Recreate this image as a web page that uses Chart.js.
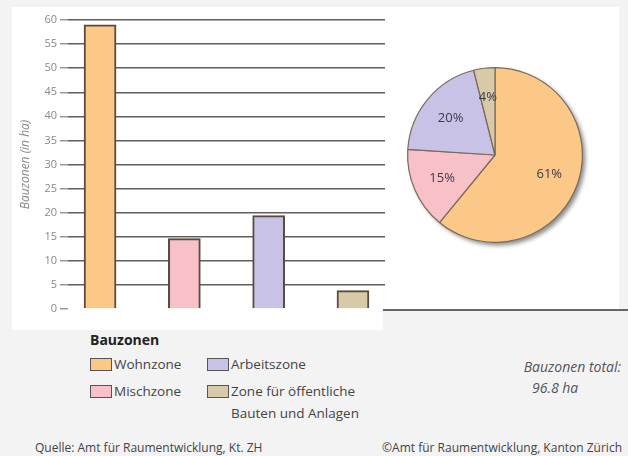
<!DOCTYPE html>
<html>
<head>
<meta charset="utf-8">
<script src="https://cdn.jsdelivr.net/npm/chart.js@4"></script>
<style>
  body { margin: 0; width: 628px; height: 456px; background: #f3f3f3; position: relative; overflow: hidden;
         font-family: "Open Sans", "Noto Sans", sans-serif; color: #333; }
  #panel { position: absolute; left: 12px; top: 7px; width: 607px; height: 323px; background: #fff; }
  #panelR { position: absolute; left: 383px; top: 309px; width: 245px; height: 22px; background: #f3f3f3; border-top: 2px solid #666; }
  #barBox { position: absolute; left: 0; top: 0; width: 400px; height: 330px; }
  #pieBox { position: absolute; left: 395px; top: 55px; width: 200px; height: 200px; }
  .t { position: absolute; white-space: nowrap; font-size: 13.5px; color: #444; }
  .box { position: absolute; width: 20px; height: 11px; border: 1px solid #555; }
</style>
</head>
<body>
<div id="panel"></div>
<div id="panelR"></div>
<div id="barBox"><canvas id="chartBar"></canvas></div>
<div id="pieBox"><canvas id="chartPie"></canvas></div>
<div id="legend"></div>
<div class="t" style="left:90px; top:330px; font-size:14px; font-weight:bold; color:#222;">Bauzonen</div>
<div class="t" style="right:7px; top:357px; font-size:14px; font-style:italic; color:#555;">Bauzonen total:</div>
<div class="t" style="left:532px; top:378px; font-size:14px; font-style:italic; color:#555;">96.8 ha</div>
<div class="t" style="left:35px; top:439px; font-size:12px;">Quelle: Amt für Raumentwicklung, Kt. ZH</div>
<div class="t" style="right:6px; top:439px; font-size:12px;">©Amt für Raumentwicklung, Kanton Zürich</div>
<script>
var zonen = ['Wohnzone', 'Mischzone', 'Arbeitszone', 'Zone für öffentliche Bauten und Anlagen'];
var flaeche = [59.0, 14.6, 19.4, 3.8];
var anteil = [61, 15, 20, 4];
var farben = ['#fcc888', '#f7c1c7', '#c8c3e6', '#d8c9a9'];
var yTicks = [0, 5, 10, 15, 20, 25, 30, 35, 40, 45, 50, 55, 60];

// legende (zwei spalten wie im original)
var legPos = [[90, 353], [90, 380], [207, 353], [207, 380]];
var legHtml = '';
zonen.forEach(function (z, i) {
    var p = legPos[i];
    var txt = i == 3 ? 'Zone für öffentliche<br>Bauten und Anlagen' : z;
    legHtml += '<div class="box" style="left:' + p[0] + 'px; top:' + (p[1] + 5) + 'px; background:' + farben[i] + '"></div>';
    legHtml += '<div class="t" style="left:' + (p[0] + 24) + 'px; top:' + p[1] + 'px; line-height:22px;">' + txt + '</div>';
});
document.getElementById('legend').innerHTML = legHtml;

var ctxBar = document.getElementById('chartBar');
var ctxPie = document.getElementById('chartPie');

// BALKEN
new Chart(ctxBar, {
    type: 'bar',
    data: {
        datasets: [{
            label: 'Bauzonen',
            data: flaeche.map(function (v, i) { return { x: i, y: v }; }),
            backgroundColor: farben,
            borderColor: '#5a4a3c',
            borderWidth: { left: 2, right: 2, top: 2, bottom: 0 },
            barThickness: 32
        }]
    },
    options: {
        responsive: true,
        maintainAspectRatio: false,
        animation: false,
        layout: { padding: { top: 20, right: 15, bottom: 21, left: 0 } },
        plugins: {
            legend: { display: false },
            tooltip: { enabled: false }
        },
        scales: {
            x: {
                type: 'linear',
                display: false,
                offset: false,
                min: -0.38,
                max: 3.38
            },
            y: {
                min: 0,
                max: 60,
                afterFit: function (s) { s.width = 68; },
                afterBuildTicks: function (s) { s.ticks = yTicks.map(function (v) { return { value: v }; }); },
                border: { display: false },
                grid: {
                    color: function (c) { return c.tick && c.tick.value === 0 ? 'rgba(0,0,0,0)' : '#5e5e5e'; },
                    lineWidth: 1.5,
                    tickColor: '#999',
                    tickLength: 8
                },
                ticks: {
                    color: '#888',
                    padding: 3,
                    font: { family: 'Open Sans', size: 11 }
                },
                title: {
                    display: true,
                    text: 'Bauzonen (in ha)',
                    color: '#888',
                    padding: { top: 18, bottom: 0 },
                    font: { family: 'Open Sans', size: 12, style: 'italic' }
                }
            }
        }
    }
});

// KREIS
var pieExtras = {
    id: 'pieExtras',
    beforeDatasetsDraw: function (chart) {
        var c = chart.ctx;
        c.save();
        c.shadowColor = 'rgba(0,0,0,0.45)';
        c.shadowBlur = 4;
        c.shadowOffsetX = 3;
        c.shadowOffsetY = 3;
        var a = chart.getDatasetMeta(0).data[0];
        c.beginPath();
        c.arc(a.x, a.y, a.outerRadius, 0, Math.PI * 2);
        c.fillStyle = '#fcc888';
        c.fill();
        c.restore();
    },
    afterDatasetsDraw: function (chart) {
        var c = chart.ctx;
        c.save();
        c.font = '13px "Open Sans"';
        c.fillStyle = '#3a3a4a';
        c.textAlign = 'center';
        c.textBaseline = 'middle';
        chart.getDatasetMeta(0).data.forEach(function (a, i) {
            var mid = (a.startAngle + a.endAngle) / 2;
            var r = a.outerRadius * 0.66;
            c.fillText(anteil[i] + '%', a.x + Math.cos(mid) * r, a.y + Math.sin(mid) * r);
        });
        c.restore();
    }
};

new Chart(ctxPie, {
    type: 'pie',
    data: {
        labels: zonen,
        datasets: [{
            data: flaeche,
            backgroundColor: farben,
            borderColor: '#7a6a5a',
            borderWidth: 1.2
        }]
    },
    options: {
        responsive: true,
        maintainAspectRatio: false,
        animation: false,
        layout: { padding: 12 },
        plugins: {
            legend: { display: false },
            tooltip: { enabled: false }
        }
    },
    plugins: [pieExtras]
});
</script>
</body>
</html>
